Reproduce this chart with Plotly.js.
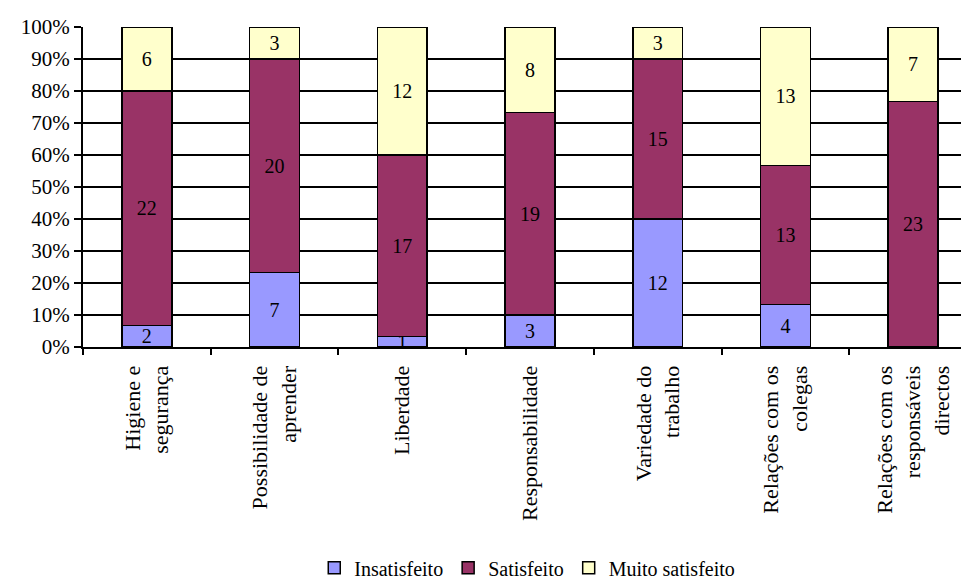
<!DOCTYPE html>
<html>
<head>
<meta charset="utf-8">
<script src="https://cdn.plot.ly/plotly-3.0.1.min.js"></script>
<style>html,body{margin:0;padding:0;background:#fff;}#chart{width:961px;height:583px;}
#chart text{font-family:"Liberation Serif","Times New Roman",serif !important;}</style>
</head>
<body>
<div id="chart"></div>
<script>
const categories = [
  "Higiene e<br>segurança",
  "Possibilidade de<br>aprender",
  "Liberdade",
  "Responsabilidade",
  "Variedade do<br>trabalho",
  "Relações com os<br>colegas",
  "Relações com os<br>responsáveis<br>directos"
];
const insatisfeito = [2, 7, 1, 3, 12, 4, 0];
const satisfeito = [22, 20, 17, 19, 15, 13, 23];
const muitoSatisfeito = [6, 3, 12, 8, 3, 13, 7];

const seriesNames = ["Insatisfeito", "Satisfeito", "Muito satisfeito"];
const seriesColors = ["#9999FF", "#993366", "#FFFFCC"];
const seriesValues = [insatisfeito, satisfeito, muitoSatisfeito];

const FONT = "Times New Roman";

const traces = seriesValues.map((vals, i) => ({
  type: "bar",
  name: seriesNames[i],
  x: categories,
  y: vals,
  text: vals.map(v => v === 0 ? "" : String(v)),
  textposition: "inside",
  insidetextanchor: "middle",
  constraintext: "none",
  textfont: {family: FONT, size: 20, color: "#000"},
  textangle: 0,
  marker: {color: seriesColors[i], line: {color: "#000", width: 1.5}},
  hoverinfo: "skip"
}));

const layout = {
  width: 961,
  height: 583,
  barmode: "stack",
  barnorm: "percent",
  bargap: 0.61,
  paper_bgcolor: "#fff",
  plot_bgcolor: "#fff",
  margin: {l: 83, r: 0, t: 27, b: 236, autoexpand: false},
  font: {family: FONT, size: 20, color: "#000"},
  showlegend: true,
  legend: {
    orientation: "h",
    x: 0.506, xanchor: "center",
    y: -0.69, yanchor: "middle",
    font: {family: FONT, size: 20, color: "#000"},
    traceorder: "normal",
    itemwidth: 30,
    tracegroupgap: 0
  },
  xaxis: {
    type: "category",
    range: [-0.5, 6.375],
    tickson: "boundaries",
    ticks: "outside",
    ticklen: 6,
    tickwidth: 2,
    tickcolor: "#000",
    tickangle: -90,
    ticklabelstandoff: 8,
    showline: true,
    linecolor: "#000",
    linewidth: 2,
    showgrid: false,
    automargin: false,
    tickfont: {family: FONT, size: 22, color: "#000"}
  },
  yaxis: {
    range: [0, 100],
    dtick: 10,
    tick0: 0,
    ticksuffix: "%",
    ticks: "outside",
    ticklen: 7,
    tickwidth: 2,
    tickcolor: "#000",
    showline: true,
    linecolor: "#000",
    linewidth: 2,
    showgrid: true,
    gridcolor: "#000",
    gridwidth: 2,
    zeroline: false,
    automargin: false,
    tickfont: {family: FONT, size: 21, color: "#000"}
  }
};

Plotly.newPlot("chart", traces, layout, {displayModeBar: false, staticPlot: true});
</script>
</body>
</html>
